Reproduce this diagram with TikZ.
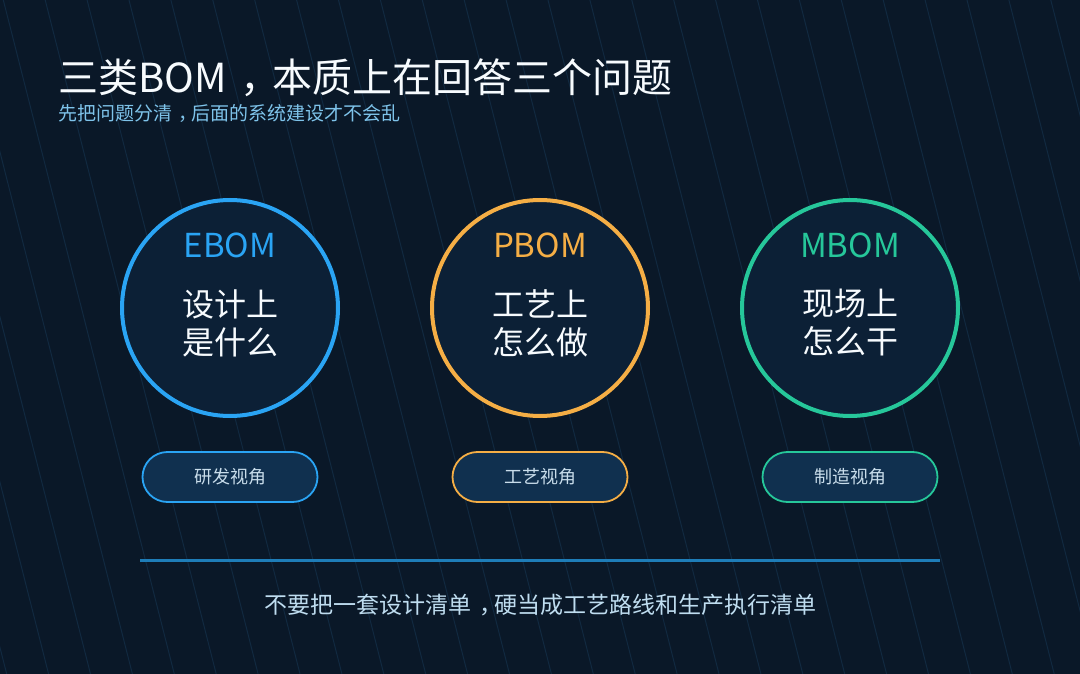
\documentclass[tikz,border=0pt]{standalone}
\usepackage{fontspec}
\setmainfont{Noto Sans CJK SC}
\definecolor{bgdark}{HTML}{0A1828}
\definecolor{streakcol}{HTML}{112940}
\definecolor{ringfill}{HTML}{0C2036}
\definecolor{tagfill}{HTML}{10304F}
\definecolor{bomblue}{HTML}{2AA4F4}
\definecolor{bomorange}{HTML}{F5AE45}
\definecolor{bomgreen}{HTML}{26C79A}
\definecolor{subblue}{HTML}{7EC3EA}
\definecolor{tagtext}{HTML}{C9DDEB}
\definecolor{rulecol}{HTML}{1E7DB8}
\definecolor{foottext}{HTML}{BFDDF0}
\newcommand{\fsz}[1]{\fontsize{#1}{#1}\selectfont}
\newcommand{\midcomma}{\hspace{0.35em}，\hspace{-0.35em}}

\begin{document}
\begin{tikzpicture}[x=1pt, y=-1pt,
    streak/.style={streakcol, line width=1pt},
    bomring/.style={circle, draw=#1, line width=4pt, fill=ringfill, minimum size=216pt, inner sep=0pt},
    bomname/.style={text=#1, font=\fsz{33}, inner sep=0pt},
    bomtext/.style={text=white!94!subblue, align=center, font=\fontsize{32}{38}\selectfont, inner sep=0pt},
    viewtag/.style={draw=#1, line width=1.8pt, fill=tagfill, rounded corners=25pt, minimum width=175pt, minimum height=50pt, text=tagtext, font=\fsz{18}}]
\useasboundingbox (0,0) rectangle (1080,674);
\fill[bgdark] (0,0) rectangle (1080,674);

% background streaks
\begin{scope}
\clip (0,0) rectangle (1080,674);
\foreach \i in {-5,...,25}
{
    \draw[streak] ({3.3+41.9*\i},0) -- ({3.3+41.9*\i+171},674);
}
\end{scope}

% heading
\node[anchor=base west, inner sep=0pt, text=white!94!subblue, font=\fsz{40}] (title) at (58,93) {三类BOM\midcomma\hspace{0.15em}本质上在回答三个问题};
\node[anchor=base west, inner sep=0pt, text=subblue, font=\fsz{19}] (subtitle) at (58,121) {先把问题分清\midcomma 后面的系统建设才不会乱};

% rings
\node[bomring=bomblue] (ebom) at (230,308) {};
\node[bomring=bomorange] (pbom) at (540,308) {};
\node[bomring=bomgreen] (mbom) at (850,308) {};

\node[bomname=bomblue] (ebomname) at (230,245) {EBOM};
\node[bomname=bomorange] (pbomname) at (540,245) {PBOM};
\node[bomname=bomgreen] (mbomname) at (850,245) {MBOM};

\node[bomtext] (ebomtext) at (230,323) {设计上\\是什么};
\node[bomtext] (pbomtext) at (540,323) {工艺上\\怎么做};
\node[bomtext] (mbomtext) at (850,323) {现场上\\怎么干};

% tags
\node[viewtag=bomblue] (ebomtag) at (230,477) {研发视角};
\node[viewtag=bomorange] (pbomtag) at (540,477) {工艺视角};
\node[viewtag=bomgreen] (mbomtag) at (850,477) {制造视角};

% footer
\draw[rulecol, line width=3pt] (140,560.5) -- (940,560.5);
\node[text=foottext, font=\fsz{23}] (footer) at (540,605) {不要把一套设计清单\midcomma 硬当成工艺路线和生产执行清单};
\end{tikzpicture}
\end{document}
